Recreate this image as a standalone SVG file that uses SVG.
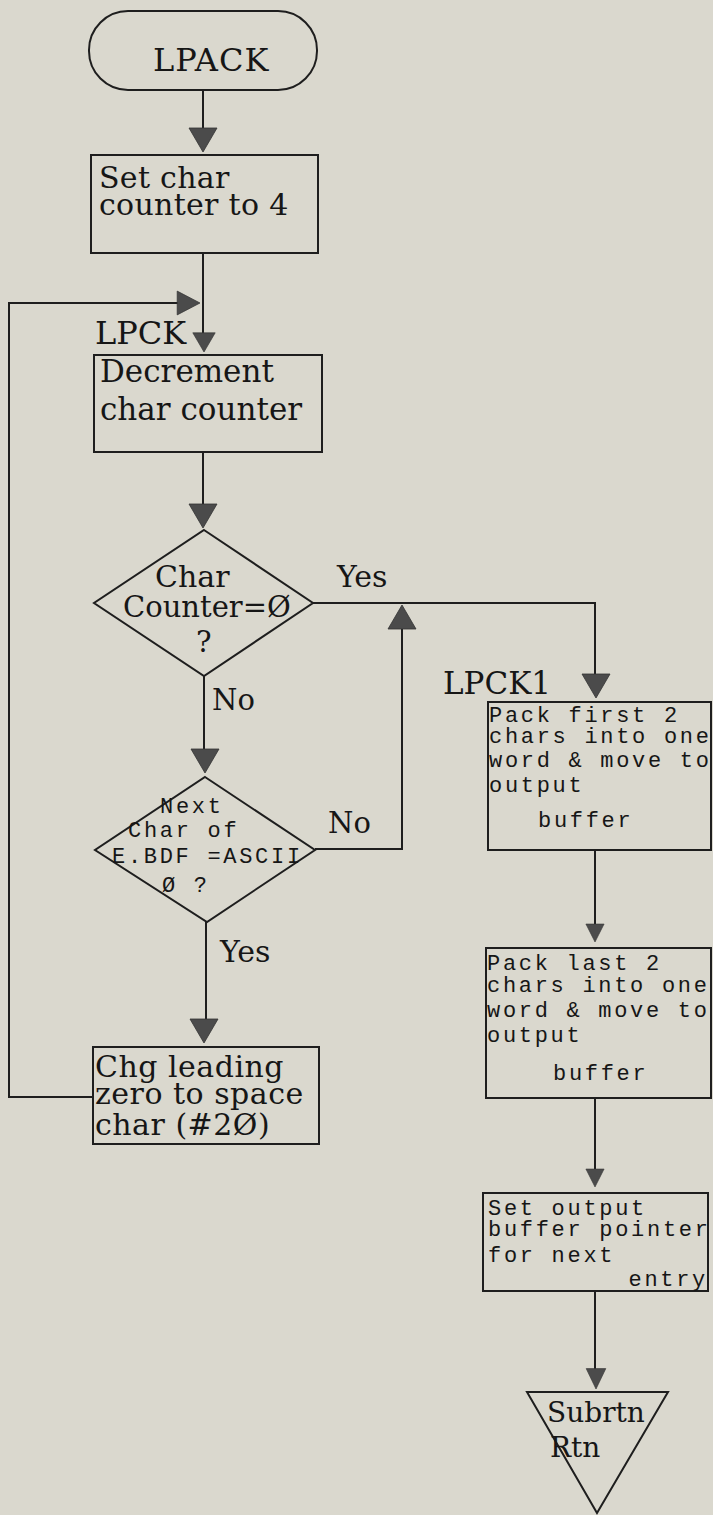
<svg xmlns="http://www.w3.org/2000/svg" xmlns:xlink="http://www.w3.org/1999/xlink" width="713" height="1515" viewBox="0 0 713 1515">
<style>
.bg{fill:#dad8ce}
.shape{fill:none;stroke:#1e1e1e;stroke-width:2}
.line{fill:none;stroke:#1e1e1e;stroke-width:2}
.ah{fill:#4b4b4b;stroke:#333;stroke-width:0.8}
.serif{font-family:"DejaVu Serif","Liberation Serif",serif;fill:#161616}
.mono{font-family:"Liberation Mono","DejaVu Sans Mono",monospace;font-size:22px;letter-spacing:2.7px;fill:#161616}
</style>
<defs>
<path id="ah" class="ah" d="M-14,-24 L14,-24 L0,0 Z"/>
</defs>
<rect class="bg" x="0" y="0" width="713" height="1515"/>

<g id="connectors">
<line class="line" x1="203" y1="90" x2="203" y2="135"/>
<line class="line" x1="203" y1="253" x2="203" y2="340"/>
<line class="line" x1="203" y1="452" x2="203" y2="510"/>
<line class="line" x1="204" y1="676" x2="204" y2="755"/>
<line class="line" x1="206" y1="922" x2="206" y2="1025"/>
<polyline class="line" points="313,603 595,603 595,680"/>
<polyline class="line" points="315,849 402,849 402,620"/>
<polyline class="line" points="93,1097 9,1097 9,303 185,303"/>
<line class="line" x1="595" y1="850" x2="595" y2="930"/>
<line class="line" x1="595" y1="1098" x2="595" y2="1172"/>
<line class="line" x1="595" y1="1291" x2="595" y2="1370"/>
<use xlink:href="#ah" href="#ah" transform="translate(203,152)"/>
<use xlink:href="#ah" href="#ah" transform="translate(200,303) rotate(-90) scale(0.85,0.95)"/>
<use xlink:href="#ah" href="#ah" transform="translate(204,352) scale(0.8)"/>
<use xlink:href="#ah" href="#ah" transform="translate(203,528)"/>
<use xlink:href="#ah" href="#ah" transform="translate(205,773)"/>
<use xlink:href="#ah" href="#ah" transform="translate(204,1043)"/>
<use xlink:href="#ah" href="#ah" transform="translate(402,605) rotate(180)"/>
<use xlink:href="#ah" href="#ah" transform="translate(596,698)"/>
<use xlink:href="#ah" href="#ah" transform="translate(595,942) scale(0.65,0.75)"/>
<use xlink:href="#ah" href="#ah" transform="translate(595,1187) scale(0.65,0.75)"/>
<use xlink:href="#ah" href="#ah" transform="translate(596,1389) scale(0.7,0.85)"/>
<text class="serif" x="337" y="587" font-size="30">Yes</text>
<text class="serif" x="212" y="710" font-size="29">No</text>
<text class="serif" x="328" y="833" font-size="29">No</text>
<text class="serif" x="220" y="962" font-size="30">Yes</text>
</g>

<g id="start">
<rect class="shape" x="89" y="11" width="228" height="79" rx="39" ry="39"/>
<text class="serif" x="153" y="71" font-size="32" letter-spacing="1">LPACK</text>
</g>

<g id="set-counter">
<rect class="shape" x="91" y="155" width="227" height="98"/>
<text class="serif" x="99" y="188" font-size="30" letter-spacing="0.3">Set char</text>
<text class="serif" x="99" y="215" font-size="30" letter-spacing="0.3">counter to 4</text>
</g>

<g id="lpck">
<text class="serif" x="95" y="344" font-size="32">LPCK</text>
<rect class="shape" x="94" y="355" width="228" height="97"/>
<text class="serif" x="100" y="382" font-size="31">Decrement</text>
<text class="serif" x="100" y="420" font-size="31">char counter</text>
</g>

<g id="decision-counter">
<polygon class="shape" points="204,530 313,603 204,676 94,603"/>
<text class="serif" x="155" y="587" font-size="30">Char</text>
<text class="serif" x="123" y="617" font-size="29">Counter=Ø</text>
<text class="serif" x="196" y="652" font-size="29">?</text>
</g>

<g id="decision-ascii">
<polygon class="shape" points="205,777 315,850 207,922 95,850"/>
<text class="mono" x="160" y="813">Next</text>
<text class="mono" x="128" y="837">Char of</text>
<text class="mono" x="112" y="863">E.BDF =ASCII</text>
<text class="mono" x="162" y="892">Ø ?</text>
</g>

<g id="change-zero">
<rect class="shape" x="93" y="1047" width="226" height="97"/>
<text class="serif" x="95" y="1077" font-size="30" letter-spacing="0.5">Chg leading</text>
<text class="serif" x="95" y="1104" font-size="30" letter-spacing="0.5">zero to space</text>
<text class="serif" x="95" y="1135" font-size="30" letter-spacing="0.5">char (#2Ø)</text>
</g>

<g id="lpck1">
<text class="serif" x="443" y="694" font-size="31">LPCK1</text>
<rect class="shape" x="488" y="702" width="223" height="148"/>
<text class="mono" x="489" y="722">Pack first 2</text>
<text class="mono" x="489" y="743">chars into one</text>
<text class="mono" x="489" y="767">word &amp; move to</text>
<text class="mono" x="489" y="792">output</text>
<text class="mono" x="538" y="827">buffer</text>
</g>

<g id="pack-last">
<rect class="shape" x="486" y="948" width="225" height="150"/>
<text class="mono" x="487" y="970">Pack last 2</text>
<text class="mono" x="487" y="992">chars into one</text>
<text class="mono" x="487" y="1017">word &amp; move to</text>
<text class="mono" x="487" y="1042">output</text>
<text class="mono" x="553" y="1080">buffer</text>
</g>

<g id="set-pointer">
<rect class="shape" x="483" y="1193" width="225" height="98"/>
<text class="mono" x="488" y="1215">Set output</text>
<text class="mono" x="488" y="1236">buffer pointer</text>
<text class="mono" x="488" y="1262">for next</text>
<text class="mono" x="708" y="1286" text-anchor="end">entry</text>
</g>

<g id="return">
<polygon class="shape" points="527,1392 668,1392 597,1513"/>
<text class="serif" x="547" y="1422" font-size="28">Subrtn</text>
<text class="serif" x="550" y="1457" font-size="28">Rtn</text>
</g>
</svg>
